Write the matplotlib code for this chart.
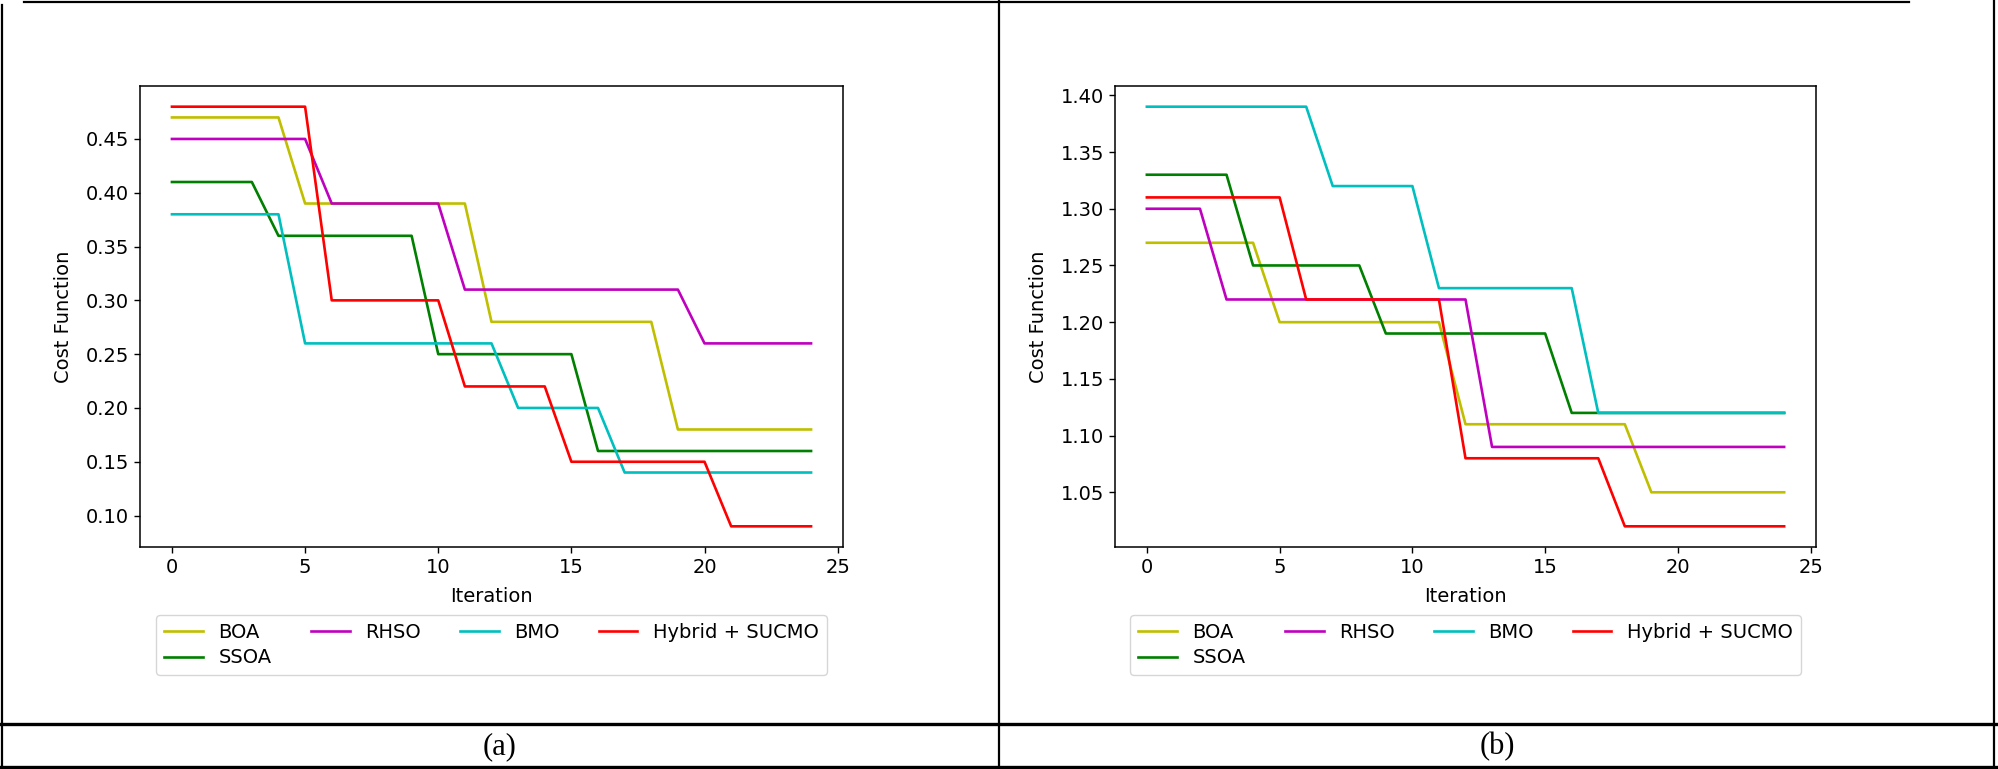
import matplotlib
matplotlib.use("Agg")
import matplotlib.pyplot as plt
from matplotlib.lines import Line2D

iterations = list(range(25))

# Panel (a)
a_boa    = [0.47]*5 + [0.39]*7 + [0.28]*7 + [0.18]*6
a_ssoa   = [0.41]*4 + [0.36]*6 + [0.25]*6 + [0.16]*9
a_rhso   = [0.45]*6 + [0.39]*5 + [0.31]*9 + [0.26]*5
a_bmo    = [0.38]*5 + [0.26]*8 + [0.20]*4 + [0.14]*8
a_hybrid = [0.48]*6 + [0.30]*5 + [0.22]*4 + [0.15]*6 + [0.09]*4

# Panel (b)
b_boa    = [1.27]*5 + [1.20]*7 + [1.11]*7 + [1.05]*6
b_ssoa   = [1.33]*4 + [1.25]*5 + [1.19]*7 + [1.12]*9
b_rhso   = [1.30]*3 + [1.22]*10 + [1.09]*12
b_bmo    = [1.39]*7 + [1.32]*4 + [1.23]*6 + [1.12]*8
b_hybrid = [1.31]*6 + [1.22]*6 + [1.08]*6 + [1.02]*7

labels = ["BOA", "SSOA", "RHSO", "BMO", "Hybrid + SUCMO"]
colors = ["y", "g", "m", "c", "r"]
captions = ["(a)", "(b)"]

FS = 14
plt.rcParams['font.family'] = ['DejaVu Sans']
plt.rcParams['font.size'] = FS
plt.rcParams['xtick.major.size'] = 4.5
plt.rcParams['ytick.major.size'] = 4.5
plt.rcParams['xtick.major.width'] = 1.0
plt.rcParams['ytick.major.width'] = 1.0
plt.rcParams['axes.linewidth'] = 1.1

fig = plt.figure(figsize=(19.98, 7.69), dpi=100)

W, H = 1998.0, 769.0
def fx(px): return px / W
def fy(py): return 1 - py / H

panels = [
    ([a_boa, a_ssoa, a_rhso, a_bmo, a_hybrid], 140, 843),
    ([b_boa, b_ssoa, b_rhso, b_bmo, b_hybrid], 1115, 1816),
]
ax_top, ax_bot = 85.7, 547.3
for series, x0, x1 in panels:
    ax = fig.add_axes([fx(x0), fy(ax_bot), fx(x1) - fx(x0), (ax_bot - ax_top) / H])
    for vals, lab, col in zip(series, labels, colors):
        ax.plot(iterations, vals, color=col, lw=1.9, label=lab)
    ax.set_xlabel("Iteration", fontsize=FS, labelpad=7)
    ax.set_ylabel("Cost Function", fontsize=FS, labelpad=9)
    ax.tick_params(labelsize=FS)
    ax.yaxis.set_major_formatter(matplotlib.ticker.FormatStrFormatter('%.2f'))
    ax.legend(ncol=4, loc='upper center', bbox_to_anchor=(0.5, -0.125),
              fontsize=FS, frameon=True, labelspacing=0.35)

# table-like borders
def hline(y, xa, xb, lw):
    fig.add_artist(Line2D([fx(xa), fx(xb)], [fy(y), fy(y)], color='black', lw=lw,
                          transform=fig.transFigure))
def vline(x, ya, yb, lw):
    fig.add_artist(Line2D([fx(x), fx(x)], [fy(ya), fy(yb)], color='black', lw=lw,
                          transform=fig.transFigure))

hline(2.3, 24, 1909, 1.6)
vline(2, 5, 768, 1.6)
vline(1994, 0, 768, 1.6)
vline(999, 0, 768, 1.6)
hline(724.3, 0, 1998, 2.4)
hline(766.5, 0, 1998, 2.4)

fig.text(fx(500), fy(747), captions[0], ha='center', va='center',
         family=['Liberation Serif'], fontsize=22)
fig.text(fx(1497), fy(747), captions[1], ha='center', va='center',
         family=['Liberation Serif'], fontsize=22)

fig.savefig("out.png", dpi=100)
